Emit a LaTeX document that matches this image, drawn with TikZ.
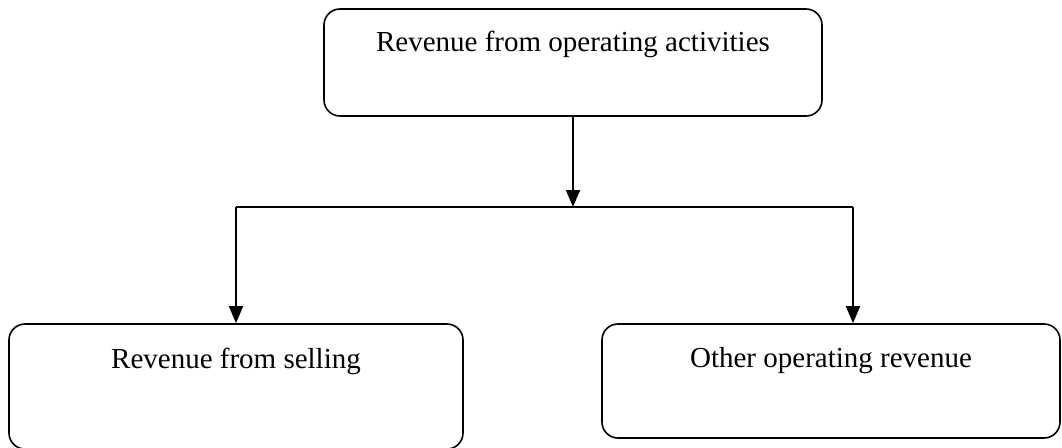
\documentclass[tikz,border=0pt]{standalone}
\usepackage{fontspec}
\setmainfont{Liberation Serif}
\usetikzlibrary{arrows.meta,positioning,calc}

\tikzset{
    revbox/.style={draw, line width=1.6pt, rounded corners=16pt, inner sep=0pt,
        font=\fontsize{29}{32}\selectfont},
    flow/.style={line width=1.6pt},
    flowarrow/.style={flow, -{Triangle[length=17pt,width=14pt]}}
}

\begin{document}
\begin{tikzpicture}[x=1pt, y=-1pt]

\useasboundingbox (0,0) rectangle (1062,447);

% Boxes
\node[revbox, minimum width=498pt, text height=42pt, text depth=65pt] (operating) at (573,62.5) {Revenue from operating activities};
\node[revbox, minimum width=454pt, text height=44pt, text depth=81pt] (selling) at (236,386.5) {Revenue from selling};
\node[revbox, minimum width=458pt, text height=43pt, text depth=71pt] (other) at (831,381) {Other operating revenue};

% Branching point
\coordinate (split) at (573,207);
\coordinate (splitL) at (236,207);
\coordinate (splitR) at (853,207);

% Connectors
\draw[flowarrow] (operating) -- (split);
\draw[flow] (splitL) -- (splitR);
\draw[flowarrow] (splitL) -- (splitL |- selling.north);
\draw[flowarrow] (splitR) -- (splitR |- other.north);

\end{tikzpicture}
\end{document}
